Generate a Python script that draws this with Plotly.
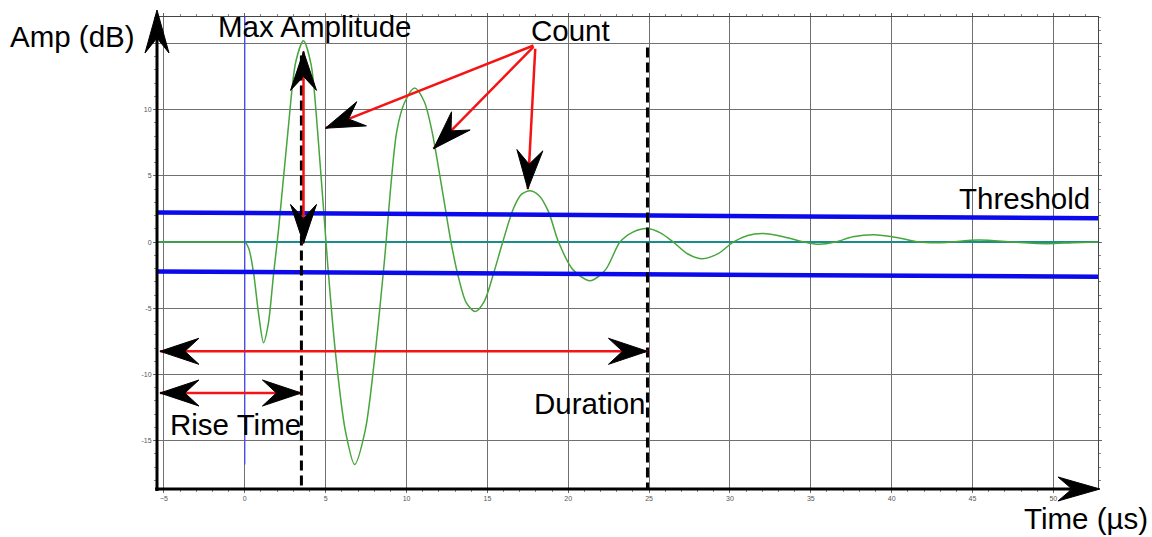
import math
import plotly.graph_objects as go

# ---------------- data ----------------
time_us = [-5.43, -1.0, -0.15, 0.0, 0.25, 0.55, 0.85, 1.16, 1.45, 1.78, 2.09, 2.67, 3.15,
           3.63, 4.1, 4.5, 5.12, 5.6, 6.21, 6.79, 7.45, 8.07, 8.62, 9.4, 9.9, 10.5,
           11.1, 11.57, 12.2, 12.75, 13.2, 13.7, 14.25, 14.8, 15.4, 15.95, 16.6, 17.1,
           17.65, 18.2, 18.78, 19.4, 20.3, 21.35, 22.3, 23.2, 24.0, 24.84, 25.7, 26.5,
           27.4, 28.3, 29.3, 30.2, 31.1, 32.05, 33.3, 34.6, 35.5, 36.5, 37.6, 38.9,
           40.3, 41.7, 43.0, 45.4, 47.5, 49.6, 51.2, 52.76]
amp_db = [0, 0, 0, 0, -0.5, -2.4, -5.4, -7.6, -6.2, -2.4, 1.0, 8.4, 13.6,
          15.2, 13.4, 8.4, -1.6, -8.3, -14.2, -16.8, -14.2, -8.3, -1.6, 8.4, 10.6, 11.63,
          10.6, 8.4, 4.0, 0, -2.6, -4.6, -5.25, -4.5, -2.3, 0, 2.5, 3.6,
          3.87, 3.5, 2.3, 0, -2.1, -2.92, -2.1, 0, 0.75, 1.02, 0.7, 0,
          -0.9, -1.25, -0.85, 0, 0.5, 0.64, 0.4, 0, -0.17, 0, 0.4, 0.56,
          0.35, 0, -0.05, 0.15, 0, -0.12, -0.05, 0]

x_ticks = [-5, 0, 5, 10, 15, 20, 25, 30, 35, 40, 45, 50]
y_ticks = [-15, -10, -5, 0, 5, 10, 15]
y_tick_text = ["-15", "-10", "-5", "0", "5", "10", ""]

threshold_x = [-5.43, 52.76]
threshold_upper = [2.24, 1.80]
threshold_lower = [-2.22, -2.62]

trigger_time = 0.0
trigger_top, trigger_bottom = 17.0, -16.8
rise_time = 3.5
duration_end = 24.9
peak_time = 3.63
peak_top, peak_bottom = 14.4, -0.1
rise_arrow_y = -11.4
duration_arrow_y = -8.25
arrow_left_x = -5.25
dashed_top = [14.1, 14.7]

count_from = [(17.85, 14.85), (17.85, 14.75), (17.96, 14.6)]
count_to = [(4.98, 8.6), (11.67, 7.05), (17.5, 4.0)]

labels = ["Max Amplitude", "Count", "Threshold", "Rise Time", "Duration"]
label_x = [4.3, 20.13, 48.2, -0.59, 21.37]
label_y = [16.3, 15.95, 3.3, -13.8, -12.2]

X_RANGE = [-5.43, 52.76]
Y_RANGE = [-18.65, 17.0]

# ---------------- figure ----------------
W, H = 1152, 537
ML, MR, MT, MB = 157, 54, 17, 48
PW, PH = W - ML - MR, H - MT - MB
SX = PW / (X_RANGE[1] - X_RANGE[0])
SY = PH / (Y_RANGE[1] - Y_RANGE[0])

fig = go.Figure()

# zero line
fig.add_trace(go.Scatter(x=X_RANGE, y=[0, 0], mode="lines",
                         line=dict(color="rgb(25,140,140)", width=2), hoverinfo="skip"))
# waveform
fig.add_trace(go.Scatter(x=time_us, y=amp_db, mode="lines",
                         line=dict(color="rgb(70,165,60)", width=1.5, shape="spline", smoothing=0.8),
                         hoverinfo="skip"))
# trigger line
fig.add_trace(go.Scatter(x=[trigger_time, trigger_time], y=[trigger_top, trigger_bottom], mode="lines",
                         line=dict(color="rgb(70,70,255)", width=1.2), hoverinfo="skip"))
# thresholds
for ys in (threshold_upper, threshold_lower):
    fig.add_trace(go.Scatter(x=threshold_x, y=ys, mode="lines",
                             line=dict(color="rgb(10,10,235)", width=4.5), hoverinfo="skip"))
# dashed verticals
for xv, yt in zip([rise_time, duration_end], dashed_top):
    fig.add_trace(go.Scatter(x=[xv, xv], y=[yt, Y_RANGE[0]], mode="lines",
                             line=dict(color="black", width=3, dash="10px,5px"), hoverinfo="skip"))
# red arrow shafts
RED = dict(color="rgb(245,20,20)", width=2.5)
fig.add_trace(go.Scatter(x=[peak_time, peak_time], y=[peak_top, peak_bottom], mode="lines",
                         line=RED, hoverinfo="skip"))
fig.add_trace(go.Scatter(x=[arrow_left_x, rise_time], y=[rise_arrow_y, rise_arrow_y], mode="lines",
                         line=RED, hoverinfo="skip"))
fig.add_trace(go.Scatter(x=[arrow_left_x, duration_end], y=[duration_arrow_y, duration_arrow_y],
                         mode="lines", line=RED, hoverinfo="skip"))
for (fx, fy), (tx, ty) in zip(count_from, count_to):
    fig.add_trace(go.Scatter(x=[fx, tx], y=[fy, ty], mode="lines", line=RED, hoverinfo="skip"))


def head(tip, frm, L=39, Wd=13, N=25, xref="x", yref="y", sx=SX, sy=SY):
    dx = (tip[0] - frm[0]) * sx
    dy = (tip[1] - frm[1]) * sy
    a = math.atan2(dy, dx)
    c, s = math.cos(a), math.sin(a)
    pts = [(0, 0), (-L, Wd), (-N, 0), (-L, -Wd)]
    rp = [(px * c - py * s, px * s + py * c) for px, py in pts]
    path = "M" + " L".join(f"{x:.2f},{y:.2f}" for x, y in rp) + " Z"
    return dict(type="path", xref=xref, yref=yref, xsizemode="pixel", ysizemode="pixel",
                xanchor=tip[0], yanchor=tip[1], path=path, fillcolor="black",
                line=dict(color="black", width=1), layer="above")


shapes = []
# axis lines (paper)
shapes.append(dict(type="line", xref="paper", yref="paper", x0=0, x1=0, y0=-0.004, y1=0.96,
                   line=dict(color="black", width=3), layer="above"))
shapes.append(dict(type="line", xref="paper", yref="paper", x0=-0.002, x1=0.975, y0=0, y1=0,
                   line=dict(color="black", width=3), layer="above"))
shapes.append(head((0, 1.0148), (0, 0), L=43, Wd=12, N=28, xref="paper", yref="paper", sx=PW, sy=PH))
shapes.append(head((1.0021, 0), (0, 0), L=42, Wd=12, N=28, xref="paper", yref="paper", sx=PW, sy=PH))

# arrow heads
shapes.append(head((peak_time, peak_top), (peak_time, peak_bottom)))
shapes.append(head((peak_time, peak_bottom), (peak_time, peak_top)))
shapes.append(head((arrow_left_x, rise_arrow_y), (rise_time, rise_arrow_y)))
shapes.append(head((rise_time, rise_arrow_y), (arrow_left_x, rise_arrow_y)))
shapes.append(head((arrow_left_x, duration_arrow_y), (duration_end, duration_arrow_y)))
shapes.append(head((duration_end, duration_arrow_y), (arrow_left_x, duration_arrow_y)))
for f, t in zip(count_from, count_to):
    shapes.append(head(t, f))

FONT = dict(family="Liberation Sans, Arial, sans-serif", size=29.5, color="black")
annotations = []
for t, x, y in zip(labels, label_x, label_y):
    annotations.append(dict(text=t, x=x, y=y, xref="x", yref="y", showarrow=False,
                            xanchor="center", yanchor="middle", font=FONT))
annotations.append(dict(text="Amp (dB)", x=(72.5 - ML) / PW, y=(MT + PH - 36) / PH,
                        xref="paper", yref="paper", showarrow=False,
                        xanchor="center", yanchor="middle", font=FONT))
annotations.append(dict(text="Time (µs)", x=(1086 - ML) / PW, y=(MT + PH - 536) / PH,
                        xref="paper", yref="paper", showarrow=False, borderpad=0,
                        xanchor="center", yanchor="bottom", font=FONT))

GRID = "#707070"
TICKFONT = dict(family="Liberation Sans, Arial, sans-serif", size=7, color="#555")
fig.update_layout(
    width=W, height=H, margin=dict(l=ML, r=MR, t=MT, b=MB, autoexpand=False),
    paper_bgcolor="white", plot_bgcolor="white", showlegend=False,
    shapes=shapes, annotations=annotations,
    xaxis=dict(range=X_RANGE, tickvals=x_ticks, showgrid=True, gridcolor=GRID, gridwidth=1,
               zeroline=False, showline=True, linecolor="#444", linewidth=1, mirror="allticks",
               ticks="outside", ticklen=3, tickcolor="#666", tickfont=TICKFONT,
               minor=dict(dtick=1, tick0=0, ticks="outside", ticklen=2, tickcolor="#888", showgrid=False),
               fixedrange=True),
    yaxis=dict(range=Y_RANGE, tickvals=y_ticks, ticktext=y_tick_text, showgrid=True,
               gridcolor=GRID, gridwidth=1, zeroline=False, showline=True, linecolor="#444",
               linewidth=1, mirror="allticks", ticks="outside", ticklen=3, tickcolor="#666",
               tickfont=TICKFONT,
               minor=dict(dtick=1, tick0=0, ticks="outside", ticklen=2, tickcolor="#888", showgrid=False),
               fixedrange=True),
)

fig.write_html("out.html")
